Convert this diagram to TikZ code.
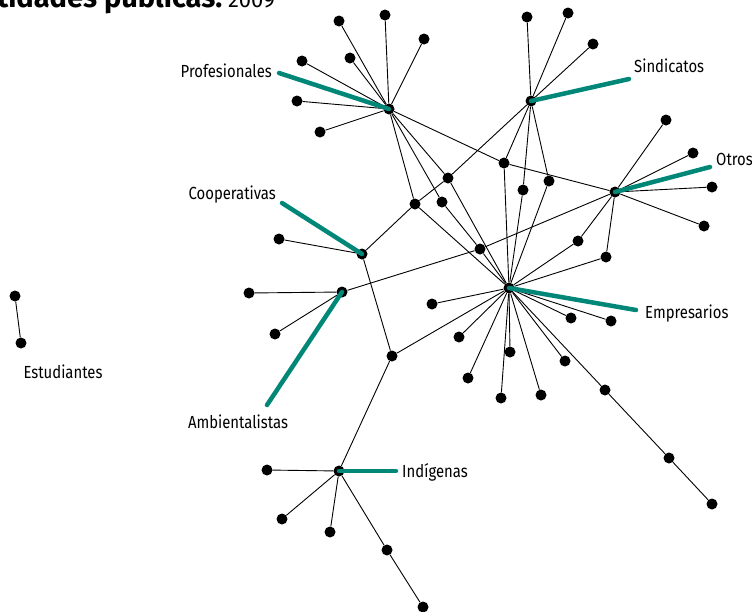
\documentclass[tikz,border=0pt]{standalone}
\usepackage{fontspec}
\setmainfont{Fira Sans}
\newfontfamily\tagfont[FakeStretch=0.85]{Fira Sans}
\usepackage{tikz}
\definecolor{tealline}{RGB}{0,135,120}

\begin{document}
\begin{tikzpicture}[
    x=1pt, y=-1pt,
    dot/.style={circle, fill=black, inner sep=0pt, minimum size=11pt},
    link/.style={line width=0.9pt},
    tag/.style={tealline, line width=4.5pt, line cap=round},
    lbl/.style={font=\tagfont\fontsize{17.5}{20}\selectfont, inner sep=0pt}
]
\useasboundingbox (0,0) rectangle (752,611);
\clip (0,0) rectangle (752,611);

% Title (cut at the top)
\node[anchor=base east, inner sep=0pt] (title) at (275,7)
  {{\fontsize{29}{30}\selectfont\bfseries tidades públicas.}\fontsize{22}{26}\selectfont\ 2009};

% Hubs
\node[dot] (prof) at (389,109) {};
\node[dot] (sind) at (531,101) {};
\node[dot] (otros) at (615,192) {};
\node[dot] (emp) at (509,288) {};
\node[dot] (coop) at (362,254) {};
\node[dot] (amb) at (342,292) {};
\node[dot] (ind) at (339,471) {};
\node[dot] (est1) at (15,296) {};
\node[dot] (est2) at (21,343) {};

% Bridges
\foreach \n/\x/\y in {m1/415/204, m2/448/178, m3/442/202, m4/480/249, m5/504/163,
                      m6/523/190, m7/549/181, m8/578/241, m9/606/257, m10/392/356}
  \node[dot] (\n) at (\x,\y) {};

% Leaves
\foreach \n/\x/\y in {p1/339/21, p2/385/15, p3/424/39, p4/302/61, p5/350/58, p6/297/101, p7/320/132}
  \node[dot] (\n) at (\x,\y) {};
\foreach \n/\x/\y in {s1/527/17, s2/568/13, s3/593/44}
  \node[dot] (\n) at (\x,\y) {};
\foreach \n/\x/\y in {o1/666/120, o2/693/153, o3/712/187, o4/704/226}
  \node[dot] (\n) at (\x,\y) {};
\foreach \n/\x/\y in {e1/432/304, e2/459/337, e3/468/378, e4/501/398, e5/510/352, e6/541/395,
                      e7/565/361, e8/571/318, e9/611/321, e10/605/390, e11/669/458, e12/712/504}
  \node[dot] (\n) at (\x,\y) {};
\foreach \n/\x/\y in {c1/279/239, a1/249/293, a2/275/334}
  \node[dot] (\n) at (\x,\y) {};
\foreach \n/\x/\y in {i1/267/470, i2/282/519, i3/330/532, i4/387/550, i5/423/607}
  \node[dot] (\n) at (\x,\y) {};

% Links
\foreach \i in {1,...,7} \draw[link] (prof) -- (p\i);
\foreach \i in {1,2,3} \draw[link] (sind) -- (s\i);
\foreach \i in {1,...,4} \draw[link] (otros) -- (o\i);
\foreach \i in {1,...,10} \draw[link] (emp) -- (e\i);
\foreach \i in {1,...,4} \draw[link] (ind) -- (i\i);
\foreach \a/\b in {prof/m1, prof/m2, prof/m3, prof/m5,
                   sind/m2, sind/m5, sind/m6, sind/m7,
                   m2/m1, m1/coop, m3/m4, m5/otros, m4/otros, otros/m8, otros/m9,
                   m1/emp, m2/emp, m4/emp, m5/emp, m6/emp, m7/emp, m8/emp, m9/emp, m10/emp,
                   coop/c1, coop/m10, amb/a1, amb/a2, amb/m4, m10/ind,
                   e10/e11, e11/e12, i4/i5, est1/est2}
  \draw[link] (\a) -- (\b);

% Teal markers
\coordinate (profend) at (279,73);
\coordinate (sindend) at (629,79);
\coordinate (otrosend) at (710,167);
\coordinate (empend) at (636,310);
\coordinate (coopend) at (282,203);
\coordinate (ambend) at (267,405);
\coordinate (indend) at (396,471);
\draw[tag] (profend) -- (prof.center);
\draw[tag] (sind.center) -- (sindend);
\draw[tag] (otros.center) -- (otrosend);
\draw[tag] (emp.center) -- (empend);
\draw[tag] (coopend) -- (coop.center);
\draw[tag] (amb.center) -- (ambend);
\draw[tag] (ind.center) -- (indend);

% Labels
\node[lbl, anchor=base east] (proflbl) at (272,77) {Profesionales};
\node[lbl, anchor=base west] (sindlbl) at (634,72) {Sindicatos};
\node[lbl, anchor=base west] (otroslbl) at (716,165) {Otros};
\node[lbl, anchor=base west] (emplbl) at (645,318) {Empresarios};
\node[lbl, anchor=base east] (cooplbl) at (276,199) {Cooperativas};
\node[lbl, anchor=base] (amblbl) at (238,428) {Ambientalistas};
\node[lbl, anchor=base west] (indlbl) at (402,477) {Indígenas};
\node[lbl, anchor=base] (estlbl) at (63,378) {Estudiantes};

\end{tikzpicture}
\end{document}
